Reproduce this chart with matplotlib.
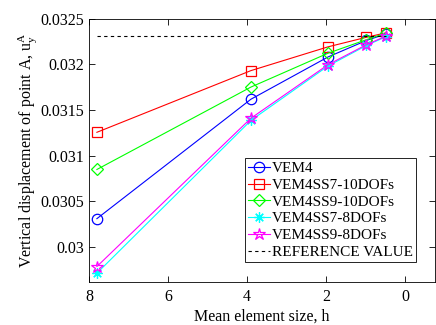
import matplotlib
matplotlib.use("Agg")
import matplotlib.pyplot as plt

plt.rcParams['font.family'] = ['Liberation Serif', 'DejaVu Serif']
plt.rcParams['mathtext.fontset'] = 'custom'
plt.rcParams['mathtext.rm'] = 'Liberation Serif'
plt.rcParams['mathtext.it'] = 'Liberation Serif'

h = [7.8, 3.9, 1.95, 0.975, 0.4875]
vem4 = [0.03031, 0.031617, 0.032079, 0.03226, 0.03233]
ss7_10 = [0.031255, 0.03193, 0.03219, 0.032295, 0.032343]
ss9_10 = [0.030848, 0.03175, 0.03212, 0.032269, 0.03234]
ss7_8 = [0.029713, 0.031385, 0.03198, 0.032205, 0.0323]
ss9_8 = [0.029786, 0.031409, 0.031994, 0.032214, 0.032306]
ref_value = 0.032313
ref_h = [7.8, 0.4875]

labels = ['VEM4', 'VEM4SS7-10DOFs', 'VEM4SS9-10DOFs', 'VEM4SS7-8DOFs',
          'VEM4SS9-8DOFs', 'REFERENCE VALUE']

fig = plt.figure(figsize=(4.36, 3.25), dpi=100)
ax = fig.add_axes([0.2041, 0.1332, 0.7936, 0.8098])

lw = 0.8
ax.plot(h, vem4, color='#0000ff', marker='o', ms=7.5, mfc='none', lw=lw, mew=0.9, label=labels[0])
ax.plot(h, ss7_10, color='#ff0000', marker='s', ms=6.5, mfc='none', lw=lw, mew=0.9, label=labels[1])
ax.plot(h, ss9_10, color='#00ff00', marker='D', ms=6.5, mfc='none', lw=lw, mew=0.9, label=labels[2])
ax.plot(h, ss7_8, color='#00ffff', marker=(8, 2, 0), ms=7.5, mfc='none', lw=lw, mew=0.9, label=labels[3])
ax.plot(h, ss9_8, color='#ff00ff', marker='*', ms=9, mfc='none', lw=lw, mew=0.9, label=labels[4])
ax.plot(ref_h, [ref_value, ref_value], color='black', ls=(0, (3, 3)), lw=0.8, label=labels[5])

ax.set_xlim(8, -0.76)
ax.set_ylim(0.02962, 0.0325)
ax.set_xticks([8, 6, 4, 2, 0])
ax.set_yticks([0.03, 0.0305, 0.031, 0.0315, 0.032, 0.0325])
ax.set_yticklabels(['0.03', '0.0305', '0.031', '0.0315', '0.032', '0.0325'])
ax.tick_params(direction='in', top=True, right=True, labelsize=11.5, length=4, width=0.6)
ax.tick_params(axis='x', pad=5)
for s in ax.spines.values():
    s.set_linewidth(0.6)

ax.set_xlabel('Mean element size, h', fontsize=11.5, labelpad=3)
ax.set_ylabel(r'Vertical displacement of point A, u$_\mathrm{y}^\mathrm{A}$', fontsize=11.5, labelpad=1)

leg = ax.legend(loc='lower right', bbox_to_anchor=(0.945, 0.075), fontsize=11,
                handlelength=1.45, handletextpad=0.1, borderpad=0.2, labelspacing=0.2,
                fancybox=False, framealpha=1, edgecolor='black', borderaxespad=0)
leg.get_frame().set_linewidth(0.6)

fig.savefig('out.png', dpi=100)
